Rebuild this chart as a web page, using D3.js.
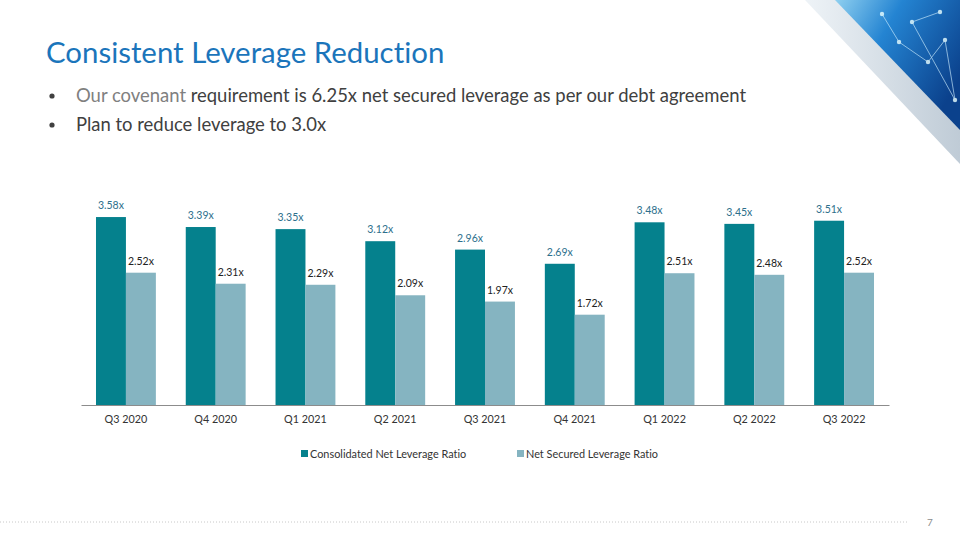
<!DOCTYPE html>
<html>
<head>
<meta charset="utf-8">
<script src="https://d3js.org/d3.v7.min.js"></script>
<style>
  body { margin: 0; background: #fff; }
  svg { display: block; font-family: Lato, "Open Sans", sans-serif; font-variant-ligatures: none; }
</style>
</head>
<body>
<div id="slide"></div>
<script>
// data
var quarters = ["Q3 2020", "Q4 2020", "Q1 2021", "Q2 2021", "Q3 2021", "Q4 2021", "Q1 2022", "Q2 2022", "Q3 2022"];
var consolidated = [3.58, 3.39, 3.35, 3.12, 2.96, 2.69, 3.48, 3.45, 3.51];
var netSecured = [2.52, 2.31, 2.29, 2.09, 1.97, 1.72, 2.51, 2.48, 2.52];
var seriesNames = ["Consolidated Net Leverage Ratio", "Net Secured Leverage Ratio"];
var seriesColors = ["#05818d", "#85b4c1"];
var labelColors = ["#2d6f8c", "#222222"];

var W = 960, H = 540;
var svg = d3.select("#slide").append("svg")
    .attr("width", W)
    .attr("height", H);

// corner artwork (top right)
var defs = svg.append("defs");
var grad = defs.append("linearGradient").attr("id", "corner")
    .attr("x1", "0%").attr("y1", "0%").attr("x2", "100%").attr("y2", "60%");
grad.append("stop").attr("offset", "0%").attr("stop-color", "#8fd0f0");
grad.append("stop").attr("offset", "40%").attr("stop-color", "#2484d2");
grad.append("stop").attr("offset", "100%").attr("stop-color", "#0b418c");
var band = defs.append("linearGradient").attr("id", "band")
    .attr("x1", "0%").attr("y1", "0%").attr("x2", "100%").attr("y2", "0%");
band.append("stop").attr("offset", "0%").attr("stop-color", "#eef3f7");
band.append("stop").attr("offset", "100%").attr("stop-color", "#bfcbd6");

svg.append("polygon")
    .attr("points", "805,0 960,0 960,164")
    .attr("fill", "url(#band)");
svg.append("polygon")
    .attr("points", "835,0 960,0 960,130")
    .attr("fill", "url(#corner)");

var nodes = [[882, 14], [899, 42], [928, 62], [945, 40], [955, 100], [912, 22], [940, 12]];
var corner = svg.append("g").attr("opacity", 0.8);
for (var i = 0; i < nodes.length - 1; i++) {
    corner.append("line")
        .attr("x1", nodes[i][0]).attr("y1", nodes[i][1])
        .attr("x2", nodes[i + 1][0]).attr("y2", nodes[i + 1][1])
        .attr("stroke", "#cfefff").attr("stroke-width", 0.8);
}
nodes.forEach(function(n) {
    corner.append("circle").attr("cx", n[0]).attr("cy", n[1]).attr("r", 2.2).attr("fill", "#eaffff");
});

// title and bullets
svg.append("text")
    .attr("x", 46).attr("y", 63)
    .attr("fill", "#1b75bb")
    .style("font-size", "29.4px")
    .text("Consistent Leverage Reduction");

var b1 = svg.append("text").attr("x", 76).attr("y", 102).style("font-size", "18.45px");
b1.append("tspan").attr("fill", "#808080").text("Our covenant");
b1.append("tspan").attr("fill", "#404040").text(" requirement is 6.25x net secured leverage as per our debt agreement");
svg.append("text").attr("x", 76).attr("y", 131).style("font-size", "18.45px")
    .attr("fill", "#404040").text("Plan to reduce leverage to 3.0x");
[96, 125].forEach(function(cy) {
    svg.append("circle").attr("cx", 52).attr("cy", cy).attr("r", 2.6).attr("fill", "#404040");
});

// chart
var margin = { left: 81, right: 71, top: 195, bottom: 135 };
var plotW = W - margin.left - margin.right,
    plotH = H - margin.top - margin.bottom;
var g = svg.append("g").attr("transform", "translate(" + margin.left + "," + margin.top + ")");

var x0 = d3.scaleBand().domain(quarters).range([0, plotW])
    .paddingInner(0.333).paddingOuter(0.167);
var x1 = d3.scaleBand().domain(seriesNames).range([0, x0.bandwidth()]);
var y = d3.scaleLinear().domain([0, 4]).range([plotH, 0]);

var rows = quarters.map(function(q, i) {
    return { q: q, vals: [consolidated[i], netSecured[i]] };
});

var groups = g.selectAll(".grp").data(rows).enter().append("g")
    .attr("transform", function(d) { return "translate(" + x0(d.q) + ",0)"; });

groups.selectAll("rect")
    .data(function(d) { return d.vals.map(function(v, k) { return { s: seriesNames[k], v: v, k: k }; }); })
    .enter().append("rect")
    .attr("x", function(d) { return x1(d.s); })
    .attr("y", function(d) { return y(d.v); })
    .attr("width", x1.bandwidth())
    .attr("height", function(d) { return plotH - y(d.v); })
    .attr("fill", function(d) { return seriesColors[d.k]; });

groups.selectAll(".lbl")
    .data(function(d) { return d.vals.map(function(v, k) { return { s: seriesNames[k], v: v, k: k }; }); })
    .enter().append("text")
    .attr("x", function(d) { return x1(d.s) + x1.bandwidth() / 2; })
    .attr("y", function(d) { return y(d.v) - 8; })
    .attr("text-anchor", "middle")
    .attr("fill", function(d) { return labelColors[d.k]; })
    .style("font-size", "10.5px")
    .text(function(d) { return d.v.toFixed(2) + "x"; });

var xAxis = g.append("g")
    .attr("transform", "translate(0," + plotH + ")")
    .call(d3.axisBottom(x0).tickSize(0).tickPadding(10));
xAxis.select(".domain").attr("stroke", "#8c8c8c");
xAxis.selectAll("text")
    .style("font-family", "Lato, sans-serif")
    .style("font-size", "10.8px")
    .attr("fill", "#333");

// legend
var legendX = [301, 517];
seriesNames.forEach(function(name, k) {
    var lg = svg.append("g").attr("transform", "translate(" + legendX[k] + ",450)");
    lg.append("rect").attr("width", 7).attr("height", 7).attr("fill", seriesColors[k]);
    lg.append("text").attr("x", 9).attr("y", 7.5)
        .style("font-size", "10.9px").attr("fill", "#333").text(name);
});

// footer
svg.append("line")
    .attr("x1", 0).attr("x2", 908).attr("y1", 522).attr("y2", 522)
    .attr("stroke", "#c8c8c8").attr("stroke-width", 1)
    .attr("stroke-dasharray", "1,2");
svg.append("text").attr("x", 927).attr("y", 526)
    .style("font-size", "10px").attr("fill", "#8c8c8c").text("7");
</script>
</body>
</html>
